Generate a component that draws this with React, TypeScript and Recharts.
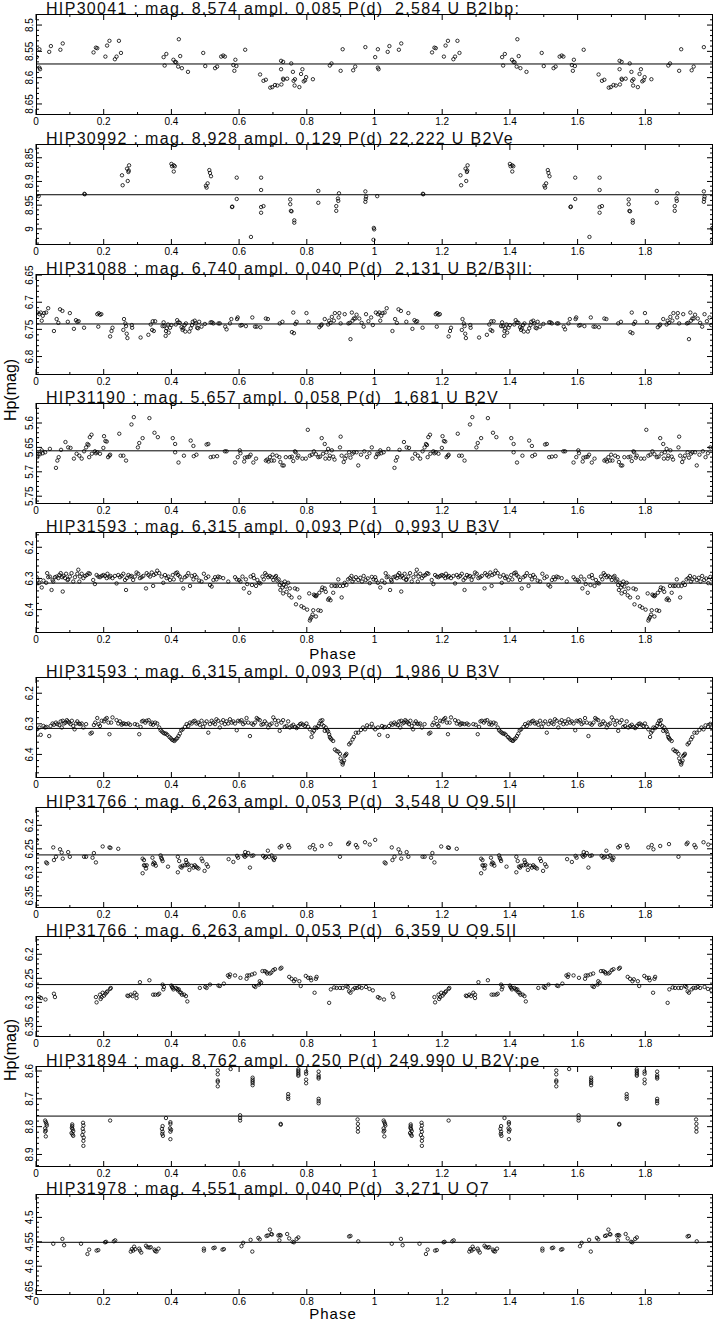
import React from 'react'
import { ScatterChart, Scatter, XAxis, YAxis, ReferenceLine } from 'recharts'

// phase (0..1) and Hp magnitude, one pair per observation; the 1..2 half is the same set shifted
const hip30041: [number, number][] = [
  [0.002, 8.561], [0.01, 8.546], [0.01, 8.581], [0.012, 8.584], [0.039, 8.551], [0.044, 8.54], [0.072, 8.547], [0.079, 8.535],
  [0.17, 8.552], [0.177, 8.543], [0.181, 8.544], [0.205, 8.56], [0.21, 8.539], [0.217, 8.53], [0.233, 8.565], [0.238, 8.56],
  [0.245, 8.53], [0.251, 8.553], [0.377, 8.561], [0.38, 8.577], [0.385, 8.555], [0.406, 8.566], [0.411, 8.57], [0.414, 8.571],
  [0.422, 8.527], [0.42, 8.579], [0.426, 8.559], [0.431, 8.582], [0.449, 8.589], [0.494, 8.553], [0.5, 8.578], [0.529, 8.582],
  [0.535, 8.579], [0.547, 8.56], [0.553, 8.558], [0.558, 8.56], [0.586, 8.587], [0.583, 8.576], [0.589, 8.566], [0.592, 8.578],
  [0.618, 8.547], [0.662, 8.594], [0.672, 8.606], [0.679, 8.604], [0.692, 8.619], [0.698, 8.618], [0.706, 8.614], [0.713, 8.615],
  [0.725, 8.613], [0.724, 8.568], [0.73, 8.57], [0.724, 8.584], [0.73, 8.602], [0.731, 8.604], [0.742, 8.602], [0.754, 8.573],
  [0.759, 8.589], [0.761, 8.606], [0.765, 8.603], [0.764, 8.615], [0.778, 8.618], [0.783, 8.593], [0.787, 8.584], [0.791, 8.607],
  [0.795, 8.605], [0.798, 8.599], [0.818, 8.603], [0.868, 8.577], [0.873, 8.573], [0.9, 8.587], [0.906, 8.546], [0.937, 8.586],
  [0.943, 8.579], [0.973, 8.542],
]

const hip30992: [number, number][] = [
  [0.973, 8.921], [0.975, 8.932], [0.974, 8.937], [0.973, 8.943], [0.999, 9.001], [0.998, 8.998], [0.997, 9.023],
  [0.008, 8.931], [0.143, 8.926], [0.144, 8.927], [0.254, 8.887], [0.256, 8.908], [0.271, 8.899], [0.269, 8.873],
  [0.273, 8.88], [0.274, 8.877], [0.275, 8.866], [0.4, 8.863], [0.402, 8.868], [0.407, 8.866], [0.41, 8.868], [0.407, 8.879],
  [0.502, 8.909], [0.504, 8.913], [0.507, 8.904], [0.512, 8.876], [0.514, 8.882], [0.517, 8.889], [0.579, 8.954], [0.58, 8.953],
  [0.593, 8.892], [0.593, 8.937], [0.635, 9.017], [0.665, 8.892], [0.665, 8.918], [0.665, 8.954], [0.672, 8.952], [0.665, 8.966],
  [0.751, 8.938], [0.751, 8.948], [0.753, 8.962], [0.755, 8.963], [0.763, 8.982], [0.763, 8.987], [0.834, 8.92], [0.834, 8.945],
  [0.887, 8.952], [0.887, 8.962], [0.892, 8.936], [0.893, 8.941], [0.895, 8.925],
]

const hip31088: [number, number][] = [
  [0.004, 6.719], [0.01, 6.722], [0.014, 6.719], [0.017, 6.734], [0.02, 6.725], [0.024, 6.72], [0.03, 6.719], [0.036, 6.711],
  [0.053, 6.753], [0.061, 6.731], [0.066, 6.738], [0.071, 6.713], [0.078, 6.716], [0.094, 6.736], [0.1, 6.72], [0.112, 6.749],
  [0.118, 6.733], [0.122, 6.736], [0.126, 6.735], [0.142, 6.747], [0.181, 6.722], [0.184, 6.745], [0.185, 6.72], [0.189, 6.723],
  [0.193, 6.722], [0.219, 6.763], [0.223, 6.753], [0.226, 6.747], [0.258, 6.751], [0.26, 6.731], [0.264, 6.739], [0.266, 6.744],
  [0.268, 6.758], [0.27, 6.766], [0.283, 6.742], [0.284, 6.747], [0.309, 6.765], [0.332, 6.76], [0.339, 6.741], [0.343, 6.751],
  [0.345, 6.735], [0.348, 6.753], [0.352, 6.735], [0.374, 6.744], [0.377, 6.737], [0.379, 6.744], [0.383, 6.762], [0.384, 6.753],
  [0.386, 6.748], [0.39, 6.741], [0.392, 6.756], [0.396, 6.747], [0.4, 6.742], [0.413, 6.741], [0.417, 6.733], [0.421, 6.737],
  [0.425, 6.738], [0.43, 6.746], [0.433, 6.751], [0.435, 6.748], [0.439, 6.742], [0.441, 6.754], [0.443, 6.739], [0.453, 6.754],
  [0.457, 6.748], [0.461, 6.742], [0.463, 6.736], [0.469, 6.734], [0.472, 6.739], [0.476, 6.747], [0.479, 6.748], [0.482, 6.736],
  [0.489, 6.745], [0.499, 6.74], [0.516, 6.737], [0.52, 6.737], [0.524, 6.739], [0.539, 6.739], [0.543, 6.739], [0.559, 6.745],
  [0.563, 6.75], [0.573, 6.739], [0.577, 6.731], [0.594, 6.731], [0.596, 6.728], [0.604, 6.743], [0.608, 6.742], [0.62, 6.744],
  [0.639, 6.728], [0.647, 6.745], [0.652, 6.745], [0.663, 6.746], [0.679, 6.73], [0.685, 6.731], [0.72, 6.739], [0.728, 6.736],
  [0.756, 6.755], [0.76, 6.719], [0.762, 6.757], [0.766, 6.74], [0.77, 6.736], [0.799, 6.72], [0.805, 6.736], [0.837, 6.746],
  [0.842, 6.743], [0.844, 6.741], [0.853, 6.731], [0.863, 6.741], [0.866, 6.734], [0.87, 6.738], [0.874, 6.727], [0.88, 6.734],
  [0.883, 6.72], [0.894, 6.728], [0.896, 6.72], [0.9, 6.739], [0.912, 6.722], [0.923, 6.739], [0.927, 6.738], [0.929, 6.768],
  [0.933, 6.719], [0.935, 6.734], [0.939, 6.73], [0.943, 6.73], [0.947, 6.723], [0.955, 6.73], [0.962, 6.738], [0.968, 6.745],
  [0.975, 6.722], [0.982, 6.735], [0.99, 6.728], [0.995, 6.742],
]

const hip31190: [number, number][] = [
  [0.004, 5.67], [0.008, 5.663], [0.012, 5.664], [0.017, 5.656], [0.02, 5.662], [0.027, 5.66], [0.041, 5.653], [0.059, 5.692],
  [0.063, 5.677], [0.067, 5.67], [0.074, 5.655], [0.087, 5.639], [0.095, 5.65], [0.102, 5.651], [0.112, 5.673], [0.12, 5.663],
  [0.128, 5.667], [0.135, 5.673], [0.142, 5.658], [0.148, 5.65], [0.152, 5.643], [0.155, 5.645], [0.159, 5.629], [0.164, 5.624],
  [0.157, 5.67], [0.165, 5.663], [0.174, 5.658], [0.177, 5.662], [0.181, 5.66], [0.189, 5.663], [0.199, 5.651], [0.201, 5.627],
  [0.205, 5.637], [0.209, 5.638], [0.213, 5.67], [0.217, 5.667], [0.219, 5.665], [0.246, 5.622], [0.25, 5.667], [0.258, 5.667],
  [0.266, 5.677], [0.282, 5.603], [0.289, 5.588], [0.301, 5.65], [0.305, 5.641], [0.315, 5.631], [0.335, 5.59], [0.35, 5.62],
  [0.36, 5.629], [0.404, 5.631], [0.411, 5.643], [0.411, 5.66], [0.421, 5.681], [0.437, 5.667], [0.457, 5.636], [0.465, 5.647],
  [0.466, 5.668], [0.474, 5.665], [0.504, 5.644], [0.509, 5.643], [0.516, 5.67], [0.524, 5.669], [0.535, 5.668], [0.558, 5.658],
  [0.563, 5.658], [0.588, 5.681], [0.596, 5.67], [0.602, 5.656], [0.604, 5.662], [0.615, 5.679], [0.617, 5.671], [0.624, 5.67],
  [0.63, 5.669], [0.634, 5.665], [0.642, 5.681], [0.65, 5.673], [0.679, 5.677], [0.683, 5.675], [0.687, 5.679], [0.691, 5.67],
  [0.696, 5.677], [0.699, 5.665], [0.703, 5.677], [0.711, 5.667], [0.719, 5.67], [0.722, 5.68], [0.728, 5.687], [0.732, 5.687],
  [0.738, 5.67], [0.75, 5.67], [0.756, 5.669], [0.76, 5.678], [0.765, 5.658], [0.767, 5.66], [0.772, 5.671], [0.775, 5.667],
  [0.787, 5.673], [0.797, 5.673], [0.803, 5.614], [0.809, 5.667], [0.815, 5.665], [0.821, 5.658], [0.827, 5.664], [0.834, 5.67],
  [0.839, 5.669], [0.844, 5.631], [0.848, 5.663], [0.853, 5.643], [0.855, 5.673], [0.858, 5.66], [0.863, 5.653], [0.866, 5.673],
  [0.868, 5.667], [0.874, 5.656], [0.878, 5.669], [0.882, 5.675], [0.898, 5.65], [0.9, 5.628], [0.903, 5.667], [0.909, 5.68],
  [0.913, 5.673], [0.917, 5.667], [0.925, 5.66], [0.929, 5.671], [0.935, 5.663], [0.939, 5.66], [0.947, 5.66], [0.952, 5.687],
  [0.96, 5.665], [0.97, 5.658], [0.978, 5.67], [0.985, 5.662], [0.992, 5.65],
]

const hip31593a: [number, number][] = [
  [0.002, 6.296], [0.004, 6.305], [0.01, 6.314], [0.017, 6.329], [0.022, 6.307], [0.03, 6.314], [0.033, 6.283], [0.036, 6.296],
  [0.041, 6.294], [0.046, 6.337], [0.049, 6.305], [0.051, 6.31], [0.056, 6.296], [0.061, 6.294], [0.066, 6.299], [0.069, 6.289],
  [0.073, 6.283], [0.077, 6.296], [0.079, 6.342], [0.081, 6.292], [0.086, 6.299], [0.089, 6.285], [0.093, 6.305], [0.095, 6.303],
  [0.1, 6.294], [0.105, 6.283], [0.11, 6.31], [0.115, 6.296], [0.122, 6.285], [0.125, 6.272], [0.128, 6.31], [0.13, 6.294],
  [0.135, 6.285], [0.14, 6.299], [0.145, 6.292], [0.15, 6.289], [0.155, 6.283], [0.159, 6.285], [0.169, 6.305], [0.174, 6.318],
  [0.179, 6.289], [0.184, 6.294], [0.189, 6.296], [0.194, 6.292], [0.199, 6.289], [0.204, 6.292], [0.209, 6.299], [0.211, 6.285],
  [0.217, 6.296], [0.22, 6.292], [0.226, 6.299], [0.233, 6.292], [0.238, 6.316], [0.243, 6.289], [0.248, 6.296], [0.253, 6.292],
  [0.258, 6.285], [0.263, 6.305], [0.266, 6.337], [0.268, 6.299], [0.273, 6.289], [0.278, 6.294], [0.282, 6.292], [0.287, 6.305],
  [0.292, 6.294], [0.297, 6.281], [0.302, 6.285], [0.307, 6.299], [0.312, 6.296], [0.317, 6.292], [0.325, 6.332], [0.327, 6.283],
  [0.332, 6.289], [0.337, 6.294], [0.342, 6.281], [0.346, 6.324], [0.348, 6.289], [0.354, 6.285], [0.358, 6.275], [0.364, 6.283],
  [0.371, 6.294], [0.376, 6.314], [0.381, 6.289], [0.386, 6.299], [0.391, 6.294], [0.396, 6.305], [0.404, 6.289], [0.407, 6.303],
  [0.413, 6.283], [0.417, 6.281], [0.42, 6.289], [0.425, 6.294], [0.43, 6.305], [0.435, 6.332], [0.44, 6.296], [0.445, 6.292],
  [0.45, 6.283], [0.455, 6.324], [0.46, 6.292], [0.465, 6.303], [0.469, 6.289], [0.474, 6.296], [0.482, 6.307], [0.489, 6.31],
  [0.496, 6.285], [0.502, 6.299], [0.509, 6.294], [0.514, 6.321], [0.519, 6.326], [0.524, 6.305], [0.529, 6.296], [0.533, 6.303],
  [0.538, 6.294], [0.543, 6.296], [0.553, 6.299], [0.568, 6.31], [0.588, 6.296], [0.593, 6.303], [0.6, 6.305], [0.604, 6.31],
  [0.61, 6.294], [0.614, 6.332], [0.62, 6.303], [0.624, 6.318], [0.63, 6.346], [0.634, 6.294], [0.638, 6.321], [0.642, 6.289],
  [0.644, 6.299], [0.65, 6.324], [0.654, 6.305], [0.659, 6.314], [0.663, 6.316], [0.669, 6.294], [0.673, 6.303], [0.677, 6.283],
  [0.681, 6.289], [0.686, 6.296], [0.691, 6.292], [0.696, 6.296], [0.701, 6.305], [0.706, 6.296], [0.709, 6.292], [0.713, 6.307],
  [0.717, 6.303], [0.72, 6.321], [0.722, 6.337], [0.725, 6.314], [0.728, 6.329], [0.73, 6.348], [0.732, 6.321], [0.735, 6.31],
  [0.738, 6.326], [0.74, 6.343], [0.745, 6.314], [0.748, 6.354], [0.75, 6.332], [0.755, 6.361], [0.765, 6.332], [0.768, 6.383],
  [0.772, 6.335], [0.778, 6.361], [0.784, 6.389], [0.791, 6.394], [0.801, 6.4], [0.807, 6.348], [0.809, 6.435], [0.811, 6.429],
  [0.814, 6.424], [0.817, 6.416], [0.819, 6.402], [0.821, 6.352], [0.824, 6.355], [0.827, 6.357], [0.829, 6.354], [0.827, 6.422],
  [0.834, 6.402], [0.841, 6.404], [0.837, 6.346], [0.844, 6.337], [0.846, 6.329], [0.853, 6.332], [0.856, 6.343], [0.863, 6.368],
  [0.866, 6.364], [0.87, 6.37], [0.873, 6.324], [0.878, 6.346], [0.883, 6.324], [0.888, 6.324], [0.893, 6.303], [0.898, 6.324],
  [0.903, 6.361], [0.907, 6.324], [0.912, 6.314], [0.917, 6.321], [0.922, 6.303], [0.927, 6.299], [0.932, 6.292], [0.935, 6.31],
  [0.939, 6.303], [0.945, 6.296], [0.952, 6.305], [0.958, 6.298], [0.963, 6.31], [0.968, 6.292], [0.974, 6.305], [0.98, 6.3],
  [0.986, 6.315], [0.992, 6.295], [0.997, 6.303],
]

const hip31593b: [number, number][] = [
  [0.002, 6.318], [0.01, 6.312], [0.014, 6.336], [0.022, 6.307], [0.027, 6.312], [0.031, 6.31], [0.039, 6.34], [0.043, 6.307],
  [0.049, 6.299], [0.053, 6.303], [0.059, 6.296], [0.063, 6.301], [0.069, 6.304], [0.073, 6.292], [0.076, 6.312], [0.079, 6.29],
  [0.083, 6.299], [0.087, 6.296], [0.091, 6.288], [0.094, 6.292], [0.098, 6.296], [0.102, 6.301], [0.106, 6.29], [0.11, 6.307],
  [0.114, 6.318], [0.118, 6.299], [0.122, 6.292], [0.126, 6.299], [0.13, 6.301], [0.135, 6.299], [0.14, 6.312], [0.148, 6.301],
  [0.161, 6.332], [0.165, 6.329], [0.171, 6.304], [0.175, 6.296], [0.181, 6.281], [0.185, 6.301], [0.189, 6.307], [0.194, 6.29],
  [0.201, 6.292], [0.205, 6.285], [0.209, 6.281], [0.214, 6.296], [0.217, 6.334], [0.222, 6.296], [0.226, 6.279], [0.238, 6.288],
  [0.243, 6.299], [0.248, 6.292], [0.253, 6.303], [0.256, 6.299], [0.26, 6.299], [0.266, 6.301], [0.273, 6.299], [0.278, 6.303],
  [0.292, 6.301], [0.299, 6.303], [0.305, 6.334], [0.309, 6.31], [0.313, 6.292], [0.317, 6.29], [0.323, 6.296], [0.327, 6.29],
  [0.333, 6.288], [0.339, 6.301], [0.343, 6.296], [0.346, 6.303], [0.352, 6.296], [0.358, 6.299], [0.364, 6.312], [0.368, 6.321],
  [0.372, 6.325], [0.376, 6.329], [0.38, 6.332], [0.384, 6.332], [0.388, 6.336], [0.394, 6.343], [0.398, 6.347], [0.402, 6.352],
  [0.406, 6.354], [0.409, 6.356], [0.413, 6.351], [0.417, 6.347], [0.421, 6.34], [0.425, 6.332], [0.429, 6.321], [0.433, 6.318],
  [0.44, 6.31], [0.445, 6.301], [0.45, 6.307], [0.455, 6.296], [0.46, 6.299], [0.465, 6.292], [0.469, 6.29], [0.474, 6.299],
  [0.479, 6.296], [0.484, 6.303], [0.489, 6.29], [0.494, 6.31], [0.499, 6.299], [0.504, 6.292], [0.509, 6.329], [0.514, 6.301],
  [0.519, 6.29], [0.524, 6.296], [0.529, 6.301], [0.533, 6.285], [0.538, 6.29], [0.543, 6.312], [0.548, 6.296], [0.553, 6.288],
  [0.558, 6.301], [0.563, 6.292], [0.568, 6.299], [0.573, 6.285], [0.578, 6.296], [0.583, 6.292], [0.588, 6.299], [0.593, 6.321],
  [0.597, 6.29], [0.602, 6.292], [0.607, 6.288], [0.612, 6.301], [0.617, 6.296], [0.622, 6.281], [0.627, 6.296], [0.632, 6.34],
  [0.637, 6.299], [0.642, 6.303], [0.647, 6.296], [0.652, 6.281], [0.656, 6.285], [0.661, 6.288], [0.666, 6.303], [0.671, 6.301],
  [0.676, 6.292], [0.681, 6.299], [0.686, 6.312], [0.691, 6.303], [0.696, 6.299], [0.701, 6.279], [0.706, 6.288], [0.711, 6.303],
  [0.716, 6.29], [0.72, 6.323], [0.725, 6.296], [0.73, 6.288], [0.735, 6.31], [0.74, 6.307], [0.745, 6.292], [0.75, 6.312],
  [0.755, 6.307], [0.76, 6.303], [0.765, 6.31], [0.77, 6.314], [0.775, 6.307], [0.78, 6.301], [0.784, 6.299], [0.789, 6.303],
  [0.794, 6.307], [0.799, 6.299], [0.804, 6.31], [0.809, 6.318], [0.814, 6.343], [0.817, 6.329], [0.821, 6.323], [0.824, 6.312],
  [0.829, 6.314], [0.834, 6.307], [0.837, 6.299], [0.841, 6.29], [0.844, 6.301], [0.846, 6.288], [0.85, 6.307], [0.853, 6.323],
  [0.856, 6.312], [0.86, 6.321], [0.863, 6.325], [0.866, 6.334], [0.868, 6.343], [0.87, 6.347], [0.873, 6.351], [0.878, 6.356],
  [0.883, 6.384], [0.888, 6.389], [0.893, 6.391], [0.898, 6.398], [0.9, 6.413], [0.903, 6.424], [0.906, 6.433], [0.907, 6.427],
  [0.91, 6.42], [0.912, 6.405], [0.915, 6.402], [0.917, 6.398], [0.925, 6.367], [0.929, 6.362], [0.935, 6.351], [0.939, 6.343],
  [0.945, 6.329], [0.952, 6.329], [0.96, 6.32], [0.966, 6.312], [0.972, 6.318], [0.978, 6.305], [0.985, 6.31], [0.992, 6.3],
  [0.997, 6.312],
]

const hip31766a: [number, number][] = [
  [0.002, 6.231], [0.03, 6.279], [0.033, 6.281], [0.051, 6.247], [0.053, 6.274], [0.059, 6.267], [0.071, 6.251], [0.076, 6.258],
  [0.079, 6.271], [0.095, 6.257], [0.1, 6.267], [0.142, 6.267], [0.148, 6.267], [0.167, 6.269], [0.171, 6.259], [0.177, 6.279],
  [0.197, 6.245], [0.217, 6.247], [0.22, 6.248], [0.243, 6.25], [0.315, 6.271], [0.319, 6.274], [0.315, 6.302], [0.319, 6.285],
  [0.322, 6.286], [0.325, 6.292], [0.327, 6.285], [0.344, 6.269], [0.346, 6.283], [0.348, 6.279], [0.351, 6.281], [0.354, 6.286],
  [0.368, 6.264], [0.37, 6.269], [0.372, 6.272], [0.374, 6.276], [0.39, 6.288], [0.419, 6.267], [0.423, 6.276], [0.419, 6.3],
  [0.427, 6.288], [0.43, 6.29], [0.433, 6.286], [0.44, 6.285], [0.443, 6.274], [0.445, 6.279], [0.447, 6.285], [0.45, 6.283],
  [0.453, 6.295], [0.46, 6.286], [0.465, 6.29], [0.469, 6.285], [0.472, 6.288], [0.476, 6.29], [0.48, 6.292], [0.489, 6.271],
  [0.492, 6.276], [0.498, 6.297], [0.504, 6.283], [0.508, 6.288], [0.569, 6.272], [0.583, 6.278], [0.594, 6.265], [0.597, 6.269],
  [0.614, 6.264], [0.617, 6.267], [0.618, 6.257], [0.622, 6.264], [0.627, 6.259], [0.632, 6.29], [0.637, 6.265], [0.642, 6.264],
  [0.671, 6.265], [0.676, 6.269], [0.679, 6.267], [0.685, 6.254], [0.689, 6.267], [0.696, 6.264], [0.701, 6.271], [0.703, 6.274],
  [0.706, 6.269], [0.72, 6.247], [0.725, 6.244], [0.745, 6.242], [0.748, 6.247], [0.809, 6.247], [0.819, 6.242], [0.824, 6.251],
  [0.844, 6.244], [0.87, 6.24], [0.898, 6.267], [0.922, 6.24], [0.925, 6.237], [0.945, 6.242], [0.949, 6.247], [0.972, 6.236],
  [0.986, 6.241],
]

const hip31766b: [number, number][] = [
  [0.01, 6.289], [0.015, 6.291], [0.028, 6.294], [0.053, 6.282], [0.056, 6.289], [0.177, 6.289], [0.179, 6.3], [0.189, 6.284],
  [0.191, 6.293], [0.194, 6.289], [0.197, 6.28], [0.201, 6.286], [0.205, 6.282], [0.209, 6.279], [0.211, 6.277], [0.219, 6.272],
  [0.221, 6.27], [0.27, 6.286], [0.273, 6.287], [0.28, 6.284], [0.285, 6.287], [0.292, 6.28], [0.297, 6.284], [0.297, 6.291],
  [0.307, 6.258], [0.335, 6.254], [0.346, 6.284], [0.352, 6.284], [0.36, 6.284], [0.364, 6.282], [0.374, 6.263], [0.376, 6.273],
  [0.378, 6.268], [0.4, 6.265], [0.402, 6.268], [0.404, 6.27], [0.406, 6.273], [0.413, 6.27], [0.417, 6.272], [0.419, 6.275],
  [0.422, 6.273], [0.425, 6.279], [0.429, 6.28], [0.431, 6.284], [0.438, 6.284], [0.443, 6.287], [0.447, 6.298], [0.484, 6.27],
  [0.5, 6.268], [0.504, 6.27], [0.514, 6.263], [0.539, 6.265], [0.543, 6.266], [0.555, 6.261], [0.567, 6.244], [0.571, 6.247],
  [0.573, 6.242], [0.588, 6.244], [0.604, 6.249], [0.622, 6.251], [0.624, 6.244], [0.63, 6.244], [0.638, 6.242], [0.646, 6.24],
  [0.644, 6.266], [0.648, 6.268], [0.659, 6.263], [0.661, 6.256], [0.665, 6.259], [0.669, 6.235], [0.676, 6.235], [0.681, 6.237],
  [0.683, 6.24], [0.691, 6.24], [0.695, 6.238], [0.701, 6.233], [0.706, 6.231], [0.722, 6.23], [0.725, 6.228], [0.748, 6.247],
  [0.755, 6.251], [0.762, 6.256], [0.766, 6.252], [0.778, 6.256], [0.782, 6.266], [0.797, 6.245], [0.804, 6.249], [0.811, 6.249],
  [0.813, 6.254], [0.823, 6.28], [0.827, 6.251], [0.829, 6.247], [0.866, 6.301], [0.871, 6.273], [0.881, 6.269], [0.888, 6.27],
  [0.898, 6.27], [0.906, 6.27], [0.917, 6.266], [0.921, 6.268], [0.925, 6.277], [0.929, 6.28], [0.937, 6.273], [0.942, 6.27],
  [0.949, 6.27], [0.955, 6.268], [0.962, 6.27], [0.975, 6.268], [0.985, 6.272], [0.995, 6.275],
]

const hip31894: [number, number][] = [
  [0.027, 8.778], [0.029, 8.784], [0.031, 8.79], [0.032, 8.796], [0.027, 8.806], [0.029, 8.814], [0.027, 8.818], [0.029, 8.835],
  [0.107, 8.792], [0.107, 8.798], [0.106, 8.804], [0.108, 8.809], [0.11, 8.816], [0.105, 8.823], [0.108, 8.828], [0.11, 8.833],
  [0.139, 8.786], [0.14, 8.796], [0.138, 8.808], [0.14, 8.818], [0.137, 8.83], [0.141, 8.839], [0.14, 8.851], [0.14, 8.869],
  [0.219, 8.778], [0.374, 8.798], [0.372, 8.808], [0.374, 8.818], [0.373, 8.826], [0.375, 8.833], [0.384, 8.769],
  [0.397, 8.784], [0.397, 8.79], [0.396, 8.806], [0.399, 8.811], [0.397, 8.818], [0.397, 8.845],
  [0.537, 8.598], [0.537, 8.612], [0.537, 8.634], [0.537, 8.639], [0.537, 8.655], [0.575, 8.593],
  [0.603, 8.759], [0.603, 8.769], [0.603, 8.778], [0.64, 8.624], [0.64, 8.631], [0.64, 8.637], [0.64, 8.643], [0.64, 8.651],
  [0.723, 8.79], [0.723, 8.793], [0.745, 8.683], [0.745, 8.692], [0.745, 8.7],
  [0.775, 8.594], [0.775, 8.6], [0.775, 8.606], [0.775, 8.612], [0.775, 8.617], [0.798, 8.602], [0.798, 8.61], [0.798, 8.631],
  [0.798, 8.644], [0.835, 8.602], [0.835, 8.615], [0.835, 8.622], [0.835, 8.627], [0.835, 8.7], [0.835, 8.708], [0.835, 8.716],
  [0.95, 8.774], [0.951, 8.79], [0.951, 8.805], [0.951, 8.818],
]

const hip31978: [number, number][] = [
  [0.051, 4.554], [0.078, 4.544], [0.083, 4.557], [0.133, 4.554], [0.152, 4.575], [0.157, 4.566], [0.179, 4.568], [0.184, 4.567],
  [0.204, 4.551], [0.207, 4.55], [0.23, 4.549], [0.234, 4.547], [0.28, 4.57], [0.283, 4.565], [0.287, 4.568], [0.29, 4.56],
  [0.293, 4.565], [0.305, 4.564], [0.307, 4.568], [0.311, 4.572], [0.325, 4.558], [0.329, 4.561], [0.335, 4.562], [0.339, 4.561],
  [0.35, 4.566], [0.352, 4.569], [0.356, 4.57], [0.362, 4.564], [0.496, 4.564], [0.496, 4.568], [0.524, 4.563], [0.528, 4.562],
  [0.551, 4.566], [0.555, 4.565], [0.607, 4.559], [0.612, 4.552], [0.634, 4.546], [0.639, 4.57], [0.657, 4.542], [0.661, 4.545],
  [0.681, 4.538], [0.685, 4.537], [0.691, 4.525], [0.695, 4.534], [0.697, 4.535], [0.716, 4.537], [0.719, 4.547], [0.72, 4.536],
  [0.723, 4.537], [0.742, 4.534], [0.748, 4.543], [0.758, 4.55], [0.762, 4.551], [0.77, 4.544], [0.775, 4.541], [0.925, 4.539],
  [0.929, 4.538], [0.952, 4.549],
]

const phaseTicks = [0, 0.1, 0.2, 0.3, 0.4, 0.5, 0.6, 0.7, 0.8, 0.9, 1, 1.1, 1.2, 1.3, 1.4, 1.5, 1.6, 1.7, 1.8, 1.9]
const phaseLabels = [0, 0.2, 0.4, 0.6, 0.8, 1, 1.2, 1.4, 1.6, 1.8]

const W = 714
const ML = 36
const MR = 1
const PH = 101
const PAD = 20
const FONT = "'Liberation Sans', Arial, sans-serif"

const panels = [
  { title: 'HIP30041 : mag. 8.574 ampl. 0.085 P(d)  2.584 U B2Ibp:', obs: hip30041, mean: 8.574, domain: [8.479, 8.671], labels: [8.5, 8.55, 8.6, 8.65], step: 0.01, top: 14 },
  { title: 'HIP30992 : mag. 8.928 ampl. 0.129 P(d) 22.222 U B2Ve', obs: hip30992, mean: 8.928, domain: [8.821, 9.034], labels: [8.85, 8.9, 8.95, 9], step: 0.01, top: 144 },
  { title: 'HIP31088 : mag. 6.740 ampl. 0.040 P(d)  2.131 U B2/B3II:', obs: hip31088, mean: 6.74, domain: [6.648, 6.834], labels: [6.65, 6.7, 6.75, 6.8], step: 0.01, top: 274 },
  { title: 'HIP31190 : mag. 5.657 ampl. 0.058 P(d)  1.681 U B2V', obs: hip31190, mean: 5.657, domain: [5.559, 5.766], labels: [5.6, 5.65, 5.7, 5.75], step: 0.01, top: 403 },
  { title: 'HIP31593 : mag. 6.315 ampl. 0.093 P(d)  0.993 U B3V', obs: hip31593a, mean: 6.315, domain: [6.151, 6.475], labels: [6.2, 6.3, 6.4], step: 0.02, top: 532 },
  { title: 'HIP31593 : mag. 6.315 ampl. 0.093 P(d)  1.986 U B3V', obs: hip31593b, mean: 6.315, domain: [6.147, 6.477], labels: [6.2, 6.3, 6.4], step: 0.02, top: 677 },
  { title: 'HIP31766 : mag. 6.263 ampl. 0.053 P(d)  3.548 U O9.5II', obs: hip31766a, mean: 6.263, domain: [6.161, 6.376], labels: [6.2, 6.25, 6.3, 6.35], step: 0.01, top: 807 },
  { title: 'HIP31766 : mag. 6.263 ampl. 0.053 P(d)  6.359 U O9.5II', obs: hip31766b, mean: 6.263, domain: [6.162, 6.372], labels: [6.2, 6.25, 6.3, 6.35], step: 0.01, top: 936 },
  { title: 'HIP31894 : mag. 8.762 ampl. 0.250 P(d) 249.990 U B2V:pe', obs: hip31894, mean: 8.762, domain: [8.582, 8.945], labels: [8.6, 8.7, 8.8, 8.9], step: 0.02, top: 1066 },
  { title: 'HIP31978 : mag. 4.551 ampl. 0.040 P(d)  3.271 U O7', obs: hip31978, mean: 4.551, domain: [4.452, 4.659], labels: [4.5, 4.55, 4.6, 4.65], step: 0.01, top: 1194 },
]

const near = (a: number, b: number) => Math.abs(a - b) < 1e-6

function minorTicks(lo: number, hi: number, step: number) {
  const out: number[] = []
  for (let k = Math.ceil(lo / step - 1e-9); k * step <= hi + 1e-9; k++) out.push(Math.round(k * step * 1000) / 1000)
  return out
}

function XTick(props: any) {
  const { x, payload } = props
  const v = payload.value
  const major = phaseLabels.some((l) => near(l, v))
  const len = major ? 6 : 3
  const yb = PAD + PH
  return (
    <g>
      <line x1={x} x2={x} y1={yb} y2={yb - len} stroke="#000" />
      <line x1={x} x2={x} y1={PAD} y2={PAD + len} stroke="#000" />
      {major && (
        <text x={x} y={yb + 10} textAnchor="middle" fontSize={10} fontFamily={FONT} fill="#000">
          {String(Math.round(v * 10) / 10)}
        </text>
      )}
    </g>
  )
}

const makeYTick = (labels: number[]) => (props: any) => {
  const { y, payload } = props
  const v = payload.value
  const major = labels.some((l) => near(l, v))
  const len = major ? 6 : 3
  const xr = W - MR
  const tx = ML - 3
  return (
    <g>
      <line x1={ML} x2={ML + len} y1={y} y2={y} stroke="#000" />
      <line x1={xr} x2={xr - len} y1={y} y2={y} stroke="#000" />
      {major && (
        <text x={tx} y={y} transform={`rotate(-90 ${tx} ${y})`} textAnchor="middle" fontSize={10} fontFamily={FONT} fill="#000">
          {String(Math.round(v * 100) / 100)}
        </text>
      )}
    </g>
  )
}

const Ring = (p: any) => <circle cx={p.cx} cy={p.cy} r={1.7} fill="none" stroke="#000" strokeWidth={0.8} />

function Panel({ p }: { p: (typeof panels)[number] }) {
  const pts = [
    ...p.obs.map(([ph, m]) => ({ x: ph, y: m })),
    ...p.obs.map(([ph, m]) => ({ x: ph + 1, y: m })),
  ]
  const H = PH + 2 * PAD
  return (
    <div style={{ position: 'absolute', left: 0, top: p.top - PAD, width: W, height: H }}>
      <ScatterChart width={W} height={H} margin={{ top: PAD, right: MR, bottom: 0, left: 0 }}>
        <XAxis
          dataKey="x" type="number" domain={[0, 2]} ticks={phaseTicks} interval={0}
          tick={XTick} tickLine={false} axisLine={false} height={PAD} allowDataOverflow
        />
        <YAxis
          dataKey="y" type="number" domain={p.domain} reversed ticks={minorTicks(p.domain[0], p.domain[1], p.step)}
          interval={0} tick={makeYTick(p.labels)} tickLine={false} axisLine={false} width={ML} allowDataOverflow
        />
        <ReferenceLine y={p.mean} stroke="#000" strokeWidth={1} />
        <Scatter data={pts} shape={Ring} isAnimationActive={false} />
      </ScatterChart>
      <div
        style={{
          position: 'absolute', left: ML, top: PAD, width: W - ML - MR, height: PH,
          border: '1px solid #000', boxSizing: 'border-box', pointerEvents: 'none',
        }}
      />
    </div>
  )
}

export default function App() {
  return (
    <div style={{ position: 'absolute', left: 0, top: 0, width: W, height: 1322, background: '#fff', overflow: 'hidden' }}>
      {panels.map((p) => (
        <Panel key={p.title} p={p} />
      ))}
      <svg width={W} height={1322} style={{ position: 'absolute', left: 0, top: 0, pointerEvents: 'none' }}>
        {panels.map((p) => (
          <text key={p.title} x={46} y={p.top} fontSize={16} fontFamily={FONT} fill="#111" letterSpacing={1.32} style={{ whiteSpace: 'pre' }}>
            {p.title}
          </text>
        ))}
        <text x={333} y={659} textAnchor="middle" fontSize={15} fontFamily={FONT} letterSpacing={1}>Phase</text>
        <text x={333} y={1319} textAnchor="middle" fontSize={15} fontFamily={FONT} letterSpacing={1}>Phase</text>
        <text x={16} y={390} transform="rotate(-90 16 390)" textAnchor="middle" fontSize={16} fontFamily={FONT}>Hp(mag)</text>
        <text x={16} y={1050} transform="rotate(-90 16 1050)" textAnchor="middle" fontSize={16} fontFamily={FONT}>Hp(mag)</text>
      </svg>
    </div>
  )
}
